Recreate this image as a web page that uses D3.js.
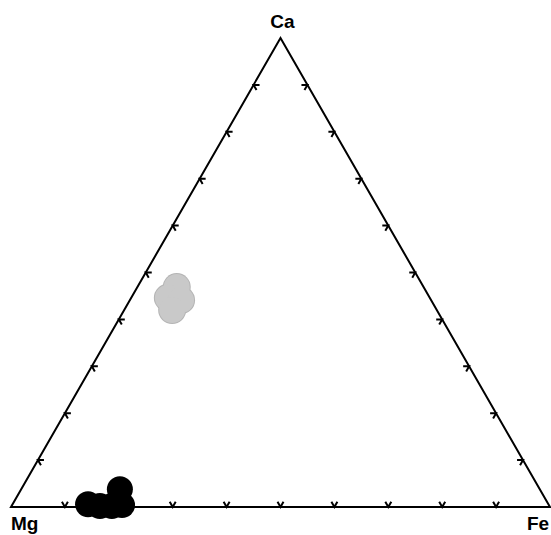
<!DOCTYPE html>
<html>
<head>
<meta charset="utf-8">
<script src="https://cdn.jsdelivr.net/npm/d3@7"></script>
<style>
  body { margin: 0; background: #fff; }
  text { font-family: "Liberation Sans", Arial, sans-serif; font-weight: bold; }
</style>
</head>
<body>
<div id="chart"></div>
<script>
// ternary values, fractions of Ca / Mg / Fe
const vertexLabels = ["Mg", "Fe", "Ca"];
const tickValues = [0.1, 0.2, 0.3, 0.4, 0.5, 0.6, 0.7, 0.8, 0.9];

const grayCa = [0.469, 0.446, 0.441, 0.42];
const grayMg = [0.458, 0.486, 0.464, 0.491];
const grayFe = [0.073, 0.068, 0.095, 0.089];

const blackCa = [0.006, 0.002, 0.002, 0.004, 0.038];
const blackMg = [0.854, 0.834, 0.812, 0.792, 0.779];
const blackFe = [0.14, 0.164, 0.186, 0.204, 0.183];

const width = 551, height = 535;
const svg = d3.select("#chart").append("svg")
  .attr("width", width)
  .attr("height", height);

// cartesian: x = Fe + Ca/2, y = Ca * sqrt(3)/2
const H = Math.sqrt(3) / 2;
const x = d3.scaleLinear().domain([0, 1]).range([11, 550]);
const y = d3.scaleLinear().domain([0, H]).range([507, 38]);

const project = (ca, mg, fe) => {
  const s = ca + mg + fe;
  return [x((fe + ca / 2) / s), y((ca * H) / s)];
};

const A = project(0, 1, 0), B = project(0, 0, 1), C = project(1, 0, 0);

// points layers (gray under the frame)
const makePts = (ca, mg, fe) => ca.map((d, i) => project(ca[i], mg[i], fe[i]));
const grayPts = makePts(grayCa, grayMg, grayFe);
const blackPts = makePts(blackCa, blackMg, blackFe);

svg.append("g").selectAll("circle").data(grayPts).join("circle")
  .attr("cx", d => d[0]).attr("cy", d => d[1]).attr("r", 14)
  .attr("fill", "#b4b4b4");
svg.append("g").selectAll("circle").data(grayPts).join("circle")
  .attr("cx", d => d[0]).attr("cy", d => d[1]).attr("r", 13)
  .attr("fill", "#c9c9c9");

// triangle frame
svg.append("path")
  .attr("d", d3.line()([A, B, C, A]) + "Z")
  .attr("fill", "none")
  .attr("stroke", "#000")
  .attr("stroke-width", 2)
  .attr("stroke-linejoin", "miter");

// ticks: two short arms on each edge, parallel to the other two edges
const tickLen = 6;
const unit = (p, q) => {
  const dx = q[0] - p[0], dy = q[1] - p[1], l = Math.hypot(dx, dy);
  return [dx / l, dy / l];
};
const edges = [
  { from: A, to: B, dirs: [unit(A, C), unit(B, C)] },   // base
  { from: A, to: C, dirs: [unit(A, B), unit(C, B)] },   // left
  { from: B, to: C, dirs: [unit(B, A), unit(C, A)] }    // right
];
const tickPaths = [];
edges.forEach(e => {
  tickValues.forEach(t => {
    const p = [e.from[0] + (e.to[0] - e.from[0]) * t, e.from[1] + (e.to[1] - e.from[1]) * t];
    const a = e.dirs[0], b = e.dirs[1];
    tickPaths.push(d3.line()([
      [p[0] + a[0] * tickLen, p[1] + a[1] * tickLen], p,
      [p[0] + b[0] * tickLen, p[1] + b[1] * tickLen]
    ]));
  });
});
svg.append("g").selectAll("path").data(tickPaths).join("path")
  .attr("d", d => d)
  .attr("fill", "none")
  .attr("stroke", "#000")
  .attr("stroke-width", 2);

// black points on top of the base line
svg.append("g").selectAll("circle").data(blackPts).join("circle")
  .attr("cx", d => d[0]).attr("cy", d => d[1]).attr("r", 13)
  .attr("fill", "#000");

// vertex labels
svg.append("text").attr("x", C[0] + 2).attr("y", 28)
  .attr("text-anchor", "middle").attr("font-size", 19).text(vertexLabels[2]);
svg.append("text").attr("x", A[0]).attr("y", 530)
  .attr("text-anchor", "start").attr("font-size", 19).text(vertexLabels[0]);
svg.append("text").attr("x", 527).attr("y", 530)
  .attr("text-anchor", "start").attr("font-size", 19).text(vertexLabels[1]);
</script>
</body>
</html>
